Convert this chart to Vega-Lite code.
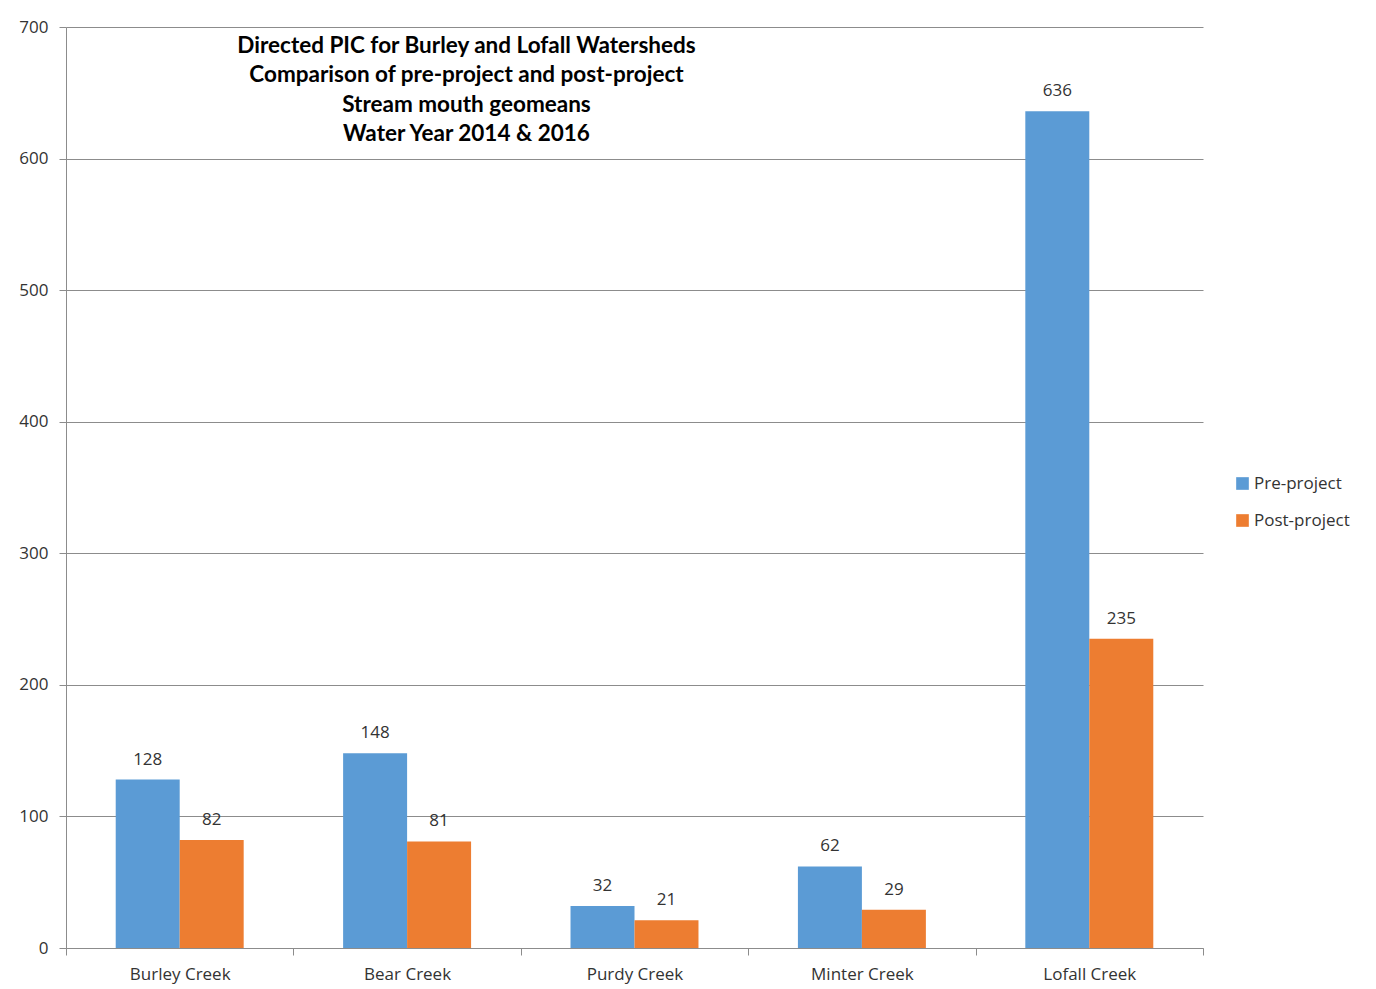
{
  "$schema": "https://vega.github.io/schema/vega-lite/v6.json",
  "width": 1137,
  "height": 921,
  "autosize": {"type": "none"},
  "padding": {"left": 66, "top": 27, "right": 173, "bottom": 41},
  "background": "white",
  "data": {
    "values": [
      {"creek": "Burley Creek", "phase": "Pre-project", "value": 128},
      {"creek": "Burley Creek", "phase": "Post-project", "value": 82},
      {"creek": "Bear Creek", "phase": "Pre-project", "value": 148},
      {"creek": "Bear Creek", "phase": "Post-project", "value": 81},
      {"creek": "Purdy Creek", "phase": "Pre-project", "value": 32},
      {"creek": "Purdy Creek", "phase": "Post-project", "value": 21},
      {"creek": "Minter Creek", "phase": "Pre-project", "value": 62},
      {"creek": "Minter Creek", "phase": "Post-project", "value": 29},
      {"creek": "Lofall Creek", "phase": "Pre-project", "value": 636},
      {"creek": "Lofall Creek", "phase": "Post-project", "value": 235}
    ]
  },
  "title": {
    "text": ["Directed PIC for Burley and Lofall Watersheds", "Comparison of pre-project and post-project", "Stream mouth geomeans", "Water Year 2014 & 2016"],
    "anchor": "middle",
    "frame": "group",
    "dx": -168,
    "dy": 127.5,
    "offset": 0,
    "font": "Lato",
    "fontSize": 22.5,
    "fontWeight": "bold",
    "lineHeight": 29.3,
    "color": "black"
  },
  "encoding": {
    "x": {
      "field": "creek",
      "type": "nominal",
      "sort": ["Burley Creek", "Bear Creek", "Purdy Creek", "Minter Creek", "Lofall Creek"],
      "scale": {"paddingInner": 0, "paddingOuter": 0},
      "axis": {
        "title": null,
        "labelAngle": 0,
        "tickBand": "extent",
        "tickSize": 7,
        "tickColor": "#8c8c8c",
        "domainColor": "#8c8c8c",
        "labelFont": "Open Sans",
        "labelFontSize": 17,
        "labelColor": "#333333",
        "labelPadding": 11,
        "grid": false
      }
    },
    "xOffset": {
      "field": "phase",
      "type": "nominal",
      "sort": ["Pre-project", "Post-project"],
      "scale": {"paddingInner": 0, "paddingOuter": 0.777}
    },
    "y": {
      "field": "value",
      "type": "quantitative",
      "scale": {"domain": [0, 700], "nice": false},
      "axis": {
        "title": null,
        "values": [0, 100, 200, 300, 400, 500, 600, 700],
        "grid": true,
        "gridColor": "#8c8c8c",
        "gridOpacity": 1,
        "tickSize": 7,
        "tickColor": "#8c8c8c",
        "domainColor": "#8c8c8c",
        "labelFont": "Open Sans",
        "labelFontSize": 17,
        "labelColor": "#333333",
        "labelPadding": 11
      }
    }
  },
  "layer": [
    {
      "mark": {"type": "bar"},
      "encoding": {
        "color": {
          "field": "phase",
          "type": "nominal",
          "scale": {"domain": ["Pre-project", "Post-project"], "range": ["#5B9BD5", "#ED7D31"]},
          "legend": {
            "title": null,
            "orient": "none",
            "legendX": 1168,
            "legendY": 448,
            "symbolType": "square",
            "symbolSize": 160,
            "symbolStrokeWidth": 0,
            "labelFont": "Open Sans",
            "labelFontSize": 17,
            "labelColor": "#333333",
            "labelOffset": 3,
            "rowPadding": 19
          }
        }
      }
    },
    {
      "mark": {"type": "text", "baseline": "bottom", "dy": -11, "font": "Open Sans", "fontSize": 17, "color": "#333333"},
      "encoding": {"text": {"field": "value", "type": "quantitative"}}
    }
  ],
  "config": {"view": {"stroke": null}}
}
